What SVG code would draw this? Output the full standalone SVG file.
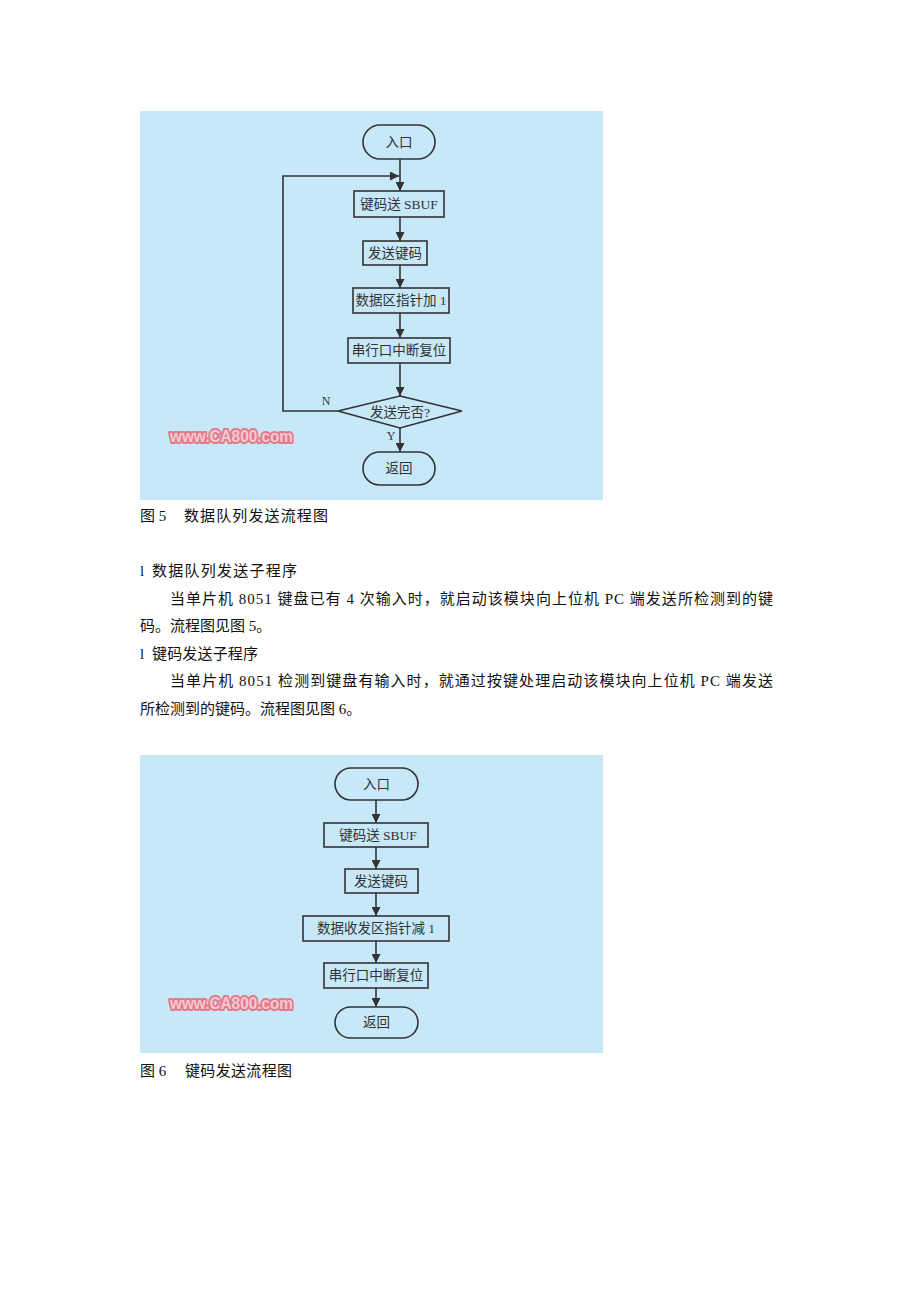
<svg xmlns="http://www.w3.org/2000/svg" width="920" height="1302" viewBox="0 0 920 1302">
<style>
.bg{fill:#c7e8f8}
.box{fill:#c7e8f8;stroke:#333;stroke-width:1.6}
.t{font-family:'Liberation Serif','Noto Sans CJK SC',serif;font-size:13.5px;fill:#333;text-anchor:middle;dominant-baseline:central}
.lbl{font-family:'Liberation Serif',serif;font-size:12px;fill:#333;text-anchor:middle}
.ln{fill:none;stroke:#333;stroke-width:1.6}
.body{font-family:'Liberation Serif','Noto Sans CJK SC',serif;font-size:15px;fill:#111}
.wm{font-family:'Liberation Sans',Arial,sans-serif;font-weight:bold;font-size:17px;fill:#f6c9d0;stroke:#e27a8b;stroke-width:4;paint-order:stroke;stroke-linejoin:round}
</style>
<defs>
<marker id="ah" viewBox="0 0 10 10" refX="10" refY="5" markerWidth="9" markerHeight="9" markerUnits="userSpaceOnUse" orient="auto">
<path d="M0,0 L10,5 L0,10 Z" fill="#333"/>
</marker>
</defs>
<rect width="920" height="1302" fill="#fff"/>

<!-- Figure 5 -->
<rect class="bg" x="140" y="111" width="463" height="389"/>
<text class="wm" x="170" y="442" textLength="123" lengthAdjust="spacingAndGlyphs">www.CA800.com</text>
<g id="f5-connectors">
<line class="ln" x1="400" y1="159" x2="400" y2="191" marker-end="url(#ah)"/>
<polyline class="ln" points="338,411 283,411 283,176 399,176" marker-end="url(#ah)"/>
<line class="ln" x1="400" y1="217" x2="400" y2="241" marker-end="url(#ah)"/>
<line class="ln" x1="400" y1="265" x2="400" y2="288" marker-end="url(#ah)"/>
<line class="ln" x1="400" y1="313" x2="400" y2="338" marker-end="url(#ah)"/>
<line class="ln" x1="400" y1="363" x2="400" y2="396" marker-end="url(#ah)"/>
<line class="ln" x1="400" y1="428" x2="400" y2="452" marker-end="url(#ah)"/>
<text class="lbl" x="326" y="405">N</text>
<text class="lbl" x="391" y="440">Y</text>
</g>
<g id="f5-start"><rect class="box" x="363" y="125" width="72" height="34" rx="17"/><text class="t" x="399" y="142">入口</text></g>
<g id="f5-sbuf"><rect class="box" x="354" y="191" width="90" height="26"/><text class="t" x="399" y="204">键码送 SBUF</text></g>
<g id="f5-send"><rect class="box" x="363" y="241" width="64" height="24"/><text class="t" x="395" y="253">发送键码</text></g>
<g id="f5-ptr"><rect class="box" x="353" y="288" width="96" height="25"/><text class="t" x="401" y="300.5">数据区指针加 1</text></g>
<g id="f5-reset"><rect class="box" x="348" y="338" width="102" height="25"/><text class="t" x="399" y="350.5">串行口中断复位</text></g>
<g id="f5-done"><polygon class="box" points="400,396 462,411 400,428 338,411"/><text class="t" x="400" y="412">发送完否?</text></g>
<g id="f5-end"><rect class="box" x="363" y="452" width="72" height="33" rx="16.5"/><text class="t" x="399" y="468.5">返回</text></g>

<g id="caption5">
<text class="body" x="140" y="521">图 5</text>
<text class="body" x="184" y="521" textLength="144" lengthAdjust="spacing">数据队列发送流程图</text>
</g>

<g id="body-text">
<text class="body" x="140" y="576">l</text>
<text class="body" x="152" y="576" textLength="145" lengthAdjust="spacing">数据队列发送子程序</text>
<text class="body" x="170" y="604" textLength="603" lengthAdjust="spacing">当单片机 8051 键盘已有 4 次输入时，就启动该模块向上位机 PC 端发送所检测到的键</text>
<text class="body" x="140" y="631">码。流程图见图 5。</text>
<text class="body" x="140" y="659">l</text>
<text class="body" x="152" y="659" textLength="106" lengthAdjust="spacing">键码发送子程序</text>
<text class="body" x="170" y="686" textLength="603" lengthAdjust="spacing">当单片机 8051 检测到键盘有输入时，就通过按键处理启动该模块向上位机 PC 端发送</text>
<text class="body" x="140" y="714">所检测到的键码。流程图见图 6。</text>
</g>

<!-- Figure 6 -->
<rect class="bg" x="140" y="755" width="463" height="298"/>
<text class="wm" x="170" y="1009" textLength="123" lengthAdjust="spacingAndGlyphs">www.CA800.com</text>
<g id="f6-connectors">
<line class="ln" x1="376" y1="800" x2="376" y2="823" marker-end="url(#ah)"/>
<line class="ln" x1="376" y1="847" x2="376" y2="869" marker-end="url(#ah)"/>
<line class="ln" x1="376" y1="893" x2="376" y2="916" marker-end="url(#ah)"/>
<line class="ln" x1="376" y1="941" x2="376" y2="963" marker-end="url(#ah)"/>
<line class="ln" x1="376" y1="988" x2="376" y2="1007" marker-end="url(#ah)"/>
</g>
<g id="f6-start"><rect class="box" x="335" y="768" width="83" height="32" rx="16"/><text class="t" x="376.5" y="784">入口</text></g>
<g id="f6-sbuf"><rect class="box" x="324" y="823" width="104" height="24"/><text class="t" x="378" y="835">键码送 SBUF</text></g>
<g id="f6-send"><rect class="box" x="345" y="869" width="73" height="24"/><text class="t" x="381" y="881">发送键码</text></g>
<g id="f6-ptr"><rect class="box" x="303" y="916" width="146" height="25"/><text class="t" x="376" y="928.5">数据收发区指针减 1</text></g>
<g id="f6-reset"><rect class="box" x="324" y="963" width="104" height="25"/><text class="t" x="376" y="975.5">串行口中断复位</text></g>
<g id="f6-end"><rect class="box" x="335" y="1007" width="83" height="31" rx="15.5"/><text class="t" x="376.5" y="1022.5">返回</text></g>

<g id="caption6">
<text class="body" x="140" y="1076">图 6</text>
<text class="body" x="185" y="1076" textLength="107" lengthAdjust="spacing">键码发送流程图</text>
</g>
</svg>
